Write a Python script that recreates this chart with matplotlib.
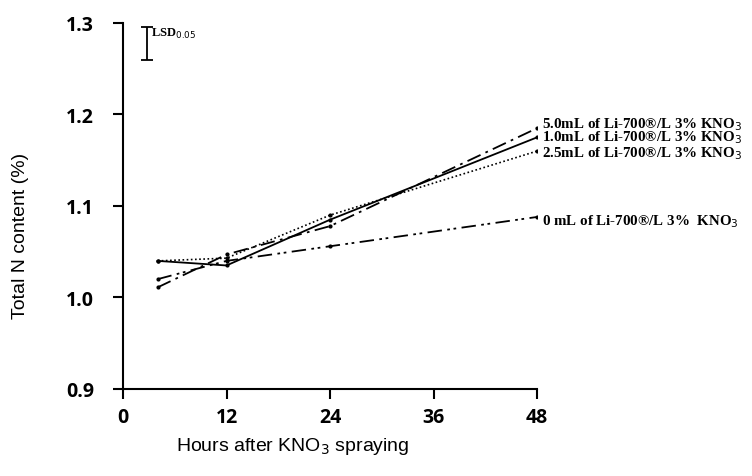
import matplotlib.pyplot as plt

hours = [4, 12, 24, 48]
n_50 = [1.011, 1.047, 1.078, 1.185]
n_10 = [1.040, 1.035, 1.085, 1.175]
n_25 = [1.040, 1.043, 1.090, 1.160]
n_00 = [1.020, 1.040, 1.056, 1.088]

labels = ['5.0mL of Li-700®/L 3% KNO$_3$',
          '1.0mL of Li-700®/L 3% KNO$_3$',
          '2.5mL of Li-700®/L 3% KNO$_3$',
          '0 mL of Li-700®/L 3%  KNO$_3$']
label_y = [1.190, 1.176, 1.158, 1.084]

lsd = 0.036

fig = plt.figure(figsize=(7.52, 4.77), dpi=100)
ax = fig.add_axes([0.1636, 0.1824, 0.5505, 0.7673])

ax.plot(hours, n_50, color='black', lw=1.3, dashes=(8, 3, 1.5, 3))
ax.plot(hours, n_10, color='black', lw=1.3, linestyle='-')
ax.plot(hours, n_25, color='black', lw=1.2, linestyle=(0, (1, 1.5)))
ax.plot(hours, n_00, color='black', lw=1.3, dashes=(8, 3, 1.5, 2, 1.5, 3))
for s in [n_50, n_10, n_25, n_00]:
    ax.plot(hours, s, 'o', color='black', ms=2)

ax.set_xlim(0, 48)
ax.set_ylim(0.9, 1.3)
ax.set_xticks([0, 12, 24, 36, 48])
ax.set_yticks([0.9, 1.0, 1.1, 1.2, 1.3])
ax.set_yticklabels(['0.9', '1.0', '1.1', '1.2', '1.3'])
for sp in ['top', 'right']:
    ax.spines[sp].set_visible(False)
for sp in ['left', 'bottom']:
    ax.spines[sp].set_linewidth(1.5)
ax.tick_params(direction='out', length=7, width=1.5)
ax.xaxis.set_tick_params(pad=6)
ax.yaxis.set_tick_params(pad=14)
for t in ax.get_xticklabels() + ax.get_yticklabels():
    t.set_fontfamily('Open Sans')
    t.set_fontweight('bold')
    t.set_fontsize(14)

ax.set_xlabel('Hours after KNO$_3$ spraying', fontfamily='Liberation Sans', fontsize=14)
ax.xaxis.set_label_coords(0.41, -0.125)
ax.set_ylabel('Total N content (%)', fontfamily='Liberation Sans', fontsize=14)
ax.yaxis.set_label_coords(-0.228, 0.42)

# LSD bar
ax.errorbar([2.8], [1.3 - lsd / 2 - 0.004], yerr=lsd / 2, color='black', capsize=4, lw=1.3, capthick=1.3, clip_on=False)
ax.text(3.3, 1.289, 'LSD$_{0.05}$', fontfamily='Liberation Serif', fontweight='bold', fontsize=9, va='center')

for lab, y in zip(labels, label_y):
    ax.text(48.6, y, lab, fontfamily='Liberation Serif', fontweight='bold', fontsize=10.8,
            va='center', ha='left', clip_on=False)

fig.savefig('out.png', dpi=100)
